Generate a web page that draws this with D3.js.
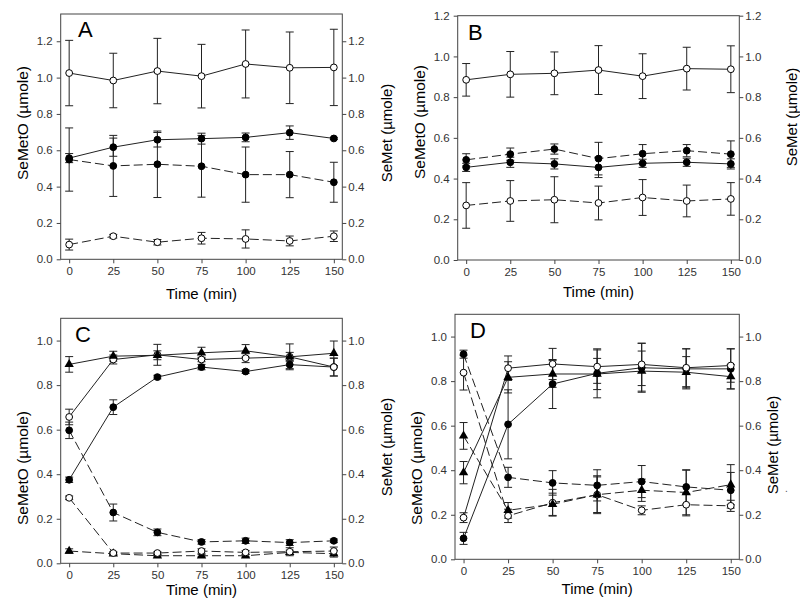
<!DOCTYPE html>
<html>
<head>
<meta charset="utf-8">
<script src="https://cdn.jsdelivr.net/npm/d3@7/dist/d3.min.js"></script>
<style>
    body { margin: 0; background: #fff; }
    svg { font-family: Arial, "Liberation Sans", sans-serif; }
</style>
</head>
<body>
<svg id="chart" width="800" height="612"></svg>
<script>

// ##################################################
// #  Data                                          #
// ##################################################

const times = [0, 25, 50, 75, 100, 125, 150];
const yTicksA = [0, 0.2, 0.4, 0.6, 0.8, 1.0, 1.2];
const yTicksC = [0, 0.2, 0.4, 0.6, 0.8, 1.0];

// panel A
const aOpenSolid = [1.025, 0.984, 1.036, 1.008, 1.075, 1.054, 1.056];
const aOpenSolidErr = [0.18, 0.15, 0.18, 0.175, 0.187, 0.197, 0.21];
const aFilledSolid = [0.557, 0.617, 0.658, 0.664, 0.671, 0.697, 0.665];
const aFilledSolidErr = [0.025, 0.05, 0.04, 0.03, 0.024, 0.037, 0.006];
const aFilledDash = [0.549, 0.514, 0.523, 0.512, 0.466, 0.466, 0.424];
const aFilledDashErr = [0.174, 0.168, 0.183, 0.17, 0.152, 0.127, 0.11];
const aOpenDash = [0.081, 0.127, 0.094, 0.116, 0.112, 0.101, 0.127];
const aOpenDashErr = [0.03, 0.01, 0.015, 0.032, 0.05, 0.027, 0.029];

// panel B
const bOpenSolid = [0.885, 0.912, 0.917, 0.933, 0.903, 0.94, 0.937];
const bOpenSolidErr = [0.08, 0.112, 0.105, 0.12, 0.11, 0.105, 0.115];
const bFilledDash = [0.492, 0.52, 0.545, 0.498, 0.522, 0.537, 0.52];
const bFilledDashErr = [0.03, 0.03, 0.025, 0.08, 0.045, 0.03, 0.065];
const bFilledSolid = [0.455, 0.48, 0.472, 0.455, 0.475, 0.48, 0.472];
const bFilledSolidErr = [0.02, 0.025, 0.025, 0.05, 0.02, 0.02, 0.025];
const bOpenDash = [0.268, 0.29, 0.296, 0.28, 0.307, 0.29, 0.3];
const bOpenDashErr = [0.112, 0.1, 0.113, 0.083, 0.088, 0.078, 0.08];

// panel C
const cTriSolid = [0.893, 0.93, 0.934, 0.945, 0.954, 0.927, 0.943];
const cTriSolidErr = [0.035, 0.022, 0.02, 0.025, 0.028, 0.02, 0.055];
const cOpenSolid = [0.657, 0.915, 0.936, 0.915, 0.921, 0.927, 0.881];
const cOpenSolidErr = [0.035, 0.02, 0.047, 0.01, 0.02, 0.058, 0.04];
const cFilledSolid = [0.375, 0.701, 0.836, 0.881, 0.861, 0.892, 0.881];
const cFilledSolidErr = [0.012, 0.033, 0.008, 0.012, 0.008, 0.018, 0.04];
const cFilledDash = [0.597, 0.228, 0.139, 0.096, 0.101, 0.093, 0.101];
const cFilledDashErr = [0.037, 0.038, 0.015, 0.01, 0.012, 0.013, 0.008];
const cOpenDash = [0.294, 0.046, 0.046, 0.055, 0.049, 0.052, 0.055];
const cOpenDashErr = [0.008, 0.006, 0.006, 0.01, 0.008, 0.018, 0.018];
const cTriDash = [0.055, 0.043, 0.034, 0.034, 0.034, 0.049, 0.043];
const cTriDashErr = [0.01, 0.005, 0.005, 0.005, 0.005, 0.01, 0.015];

// panel D
const dFilledDash = [0.921, 0.368, 0.343, 0.332, 0.349, 0.325, 0.31];
const dFilledDashErr = [0.018, 0.045, 0.055, 0.07, 0.072, 0.077, 0.08];
const dTriDash = [0.554, 0.22, 0.247, 0.29, 0.31, 0.30, 0.335];
const dTriDashErr = [0.06, 0.035, 0.05, 0.08, 0.05, 0.1, 0.09];
const dOpenDash = [0.838, 0.195, 0.254, 0.29, 0.22, 0.245, 0.24];
const dOpenDashErr = [0.078, 0.03, 0.06, 0.085, 0.02, 0.05, 0.025];
const dTriSolid = [0.389, 0.817, 0.832, 0.832, 0.845, 0.84, 0.82];
const dTriSolidErr = [0.05, 0.07, 0.06, 0.07, 0.09, 0.07, 0.055];
const dOpenSolid = [0.187, 0.858, 0.877, 0.865, 0.875, 0.86, 0.87];
const dOpenSolidErr = [0.022, 0.055, 0.07, 0.075, 0.095, 0.085, 0.075];
const dFilledSolid = [0.094, 0.606, 0.787, 0.835, 0.86, 0.855, 0.855];
const dFilledSolidErr = [0.027, 0.155, 0.11, 0.11, 0.11, 0.09, 0.09];

// ##################################################
// #  Layout                                        #
// ##################################################

const panels = [
    {
        letter: 'A', left: 60.7, right: 342.3, top: 14, bottom: 259.3, yMax: 1.35, yTicks: yTicksA,
        letterPos: [78, 37], yTitleY: 123, rTitleX: 392, rTitleY: 133, xTitleY: 299,
        series: [
            {values: aOpenDash, err: aOpenDashErr, marker: 'open', dash: true},
            {values: aFilledDash, err: aFilledDashErr, marker: 'filled', dash: true},
            {values: aFilledSolid, err: aFilledSolidErr, marker: 'filled', dash: false},
            {values: aOpenSolid, err: aOpenSolidErr, marker: 'open', dash: false}
        ]
    },
    {
        letter: 'B', left: 457.7, right: 739.3, top: 15.7, bottom: 260, yMax: 1.2, yTicks: yTicksA,
        letterPos: [468, 40], yTitleY: 122, rTitleX: 797, rTitleY: 117, xTitleY: 297,
        series: [
            {values: bOpenDash, err: bOpenDashErr, marker: 'open', dash: true},
            {values: bFilledDash, err: bFilledDashErr, marker: 'filled', dash: true},
            {values: bFilledSolid, err: bFilledSolidErr, marker: 'filled', dash: false},
            {values: bOpenSolid, err: bOpenSolidErr, marker: 'open', dash: false}
        ]
    },
    {
        letter: 'C', left: 60.7, right: 342.3, top: 318.3, bottom: 563.3, yMax: 1.1, yTicks: yTicksC,
        letterPos: [75, 342], yTitleY: 468, rTitleX: 392, rTitleY: 447, xTitleY: 595,
        series: [
            {values: cTriDash, err: cTriDashErr, marker: 'tri', dash: true},
            {values: cOpenDash, err: cOpenDashErr, marker: 'open', dash: true},
            {values: cFilledDash, err: cFilledDashErr, marker: 'filled', dash: true},
            {values: cFilledSolid, err: cFilledSolidErr, marker: 'filled', dash: false},
            {values: cOpenSolid, err: cOpenSolidErr, marker: 'open', dash: false},
            {values: cTriSolid, err: cTriSolidErr, marker: 'tri', dash: false}
        ]
    },
    {
        letter: 'D', left: 455, right: 739.3, top: 314.3, bottom: 559.3, yMax: 1.1, yTicks: yTicksC,
        letterPos: [470, 338], yTitleY: 468, rTitleX: 778, rTitleY: 445, xTitleY: 594,
        series: [
            {values: dOpenDash, err: dOpenDashErr, marker: 'open', dash: true},
            {values: dTriDash, err: dTriDashErr, marker: 'tri', dash: true},
            {values: dFilledDash, err: dFilledDashErr, marker: 'filled', dash: true},
            {values: dFilledSolid, err: dFilledSolidErr, marker: 'filled', dash: false},
            {values: dTriSolid, err: dTriSolidErr, marker: 'tri', dash: false},
            {values: dOpenSolid, err: dOpenSolidErr, marker: 'open', dash: false}
        ]
    }
];

// ##################################################
// #  Panel                                         #
// ##################################################

const svg = d3.select('#chart');

panels.forEach(p => drawPanel(svg, p));

// stray mark beside panel D in the original
svg.append('text')
    .attr('x', 785).attr('y', 492)
    .attr('font-size', 10).attr('fill', '#555')
    .text('.');

function drawPanel(root, p) {
    const g = root.append('g').attr('class', 'panel');

    const x = d3.scaleLinear()
        .domain([-4.8, 154.8])
        .range([p.left, p.right]);
    const y = d3.scaleLinear()
        .domain([0, p.yMax])
        .range([p.bottom, p.top]);

    const fmt = d3.format('.1f');

    // axes
    const left = g.append('g')
        .attr('transform', `translate(${p.left},0)`)
        .call(d3.axisLeft(y).tickValues(p.yTicks).tickFormat(fmt).tickSize(4).tickPadding(4));
    const right = g.append('g')
        .attr('transform', `translate(${p.right},0)`)
        .call(d3.axisRight(y).tickValues(p.yTicks).tickFormat(fmt).tickSize(4).tickPadding(2));
    const bottom = g.append('g')
        .attr('transform', `translate(0,${p.bottom})`)
        .call(d3.axisBottom(x).tickValues(times).tickSize(4).tickPadding(4));

    [left, right, bottom].forEach(a => {
        a.select('.domain').remove();
        a.selectAll('line').attr('stroke', '#444');
        a.selectAll('text').attr('font-size', 11.5).attr('fill', '#333')
            .attr('font-family', 'Arial, "Liberation Sans", sans-serif');
    });

    g.append('rect')
        .attr('x', p.left).attr('y', p.top)
        .attr('width', p.right - p.left)
        .attr('height', p.bottom - p.top)
        .attr('fill', 'none')
        .attr('stroke', '#444')
        .attr('stroke-width', 1);

    // titles
    g.append('text')
        .attr('transform', `translate(${p.left - 33},${p.yTitleY}) rotate(-90)`)
        .attr('text-anchor', 'middle')
        .attr('font-size', 15.5)
        .text('SeMetO (µmole)');
    g.append('text')
        .attr('transform', `translate(${p.rTitleX},${p.rTitleY}) rotate(-90)`)
        .attr('text-anchor', 'middle')
        .attr('font-size', 15)
        .text('SeMet (µmole)');
    g.append('text')
        .attr('x', (p.left + p.right) / 2)
        .attr('y', p.xTitleY)
        .attr('text-anchor', 'middle')
        .attr('font-size', 15)
        .text('Time (min)');
    g.append('text')
        .attr('x', p.letterPos[0])
        .attr('y', p.letterPos[1])
        .attr('font-size', 22)
        .text(p.letter);

    const line = d3.line()
        .x((d, i) => x(times[i]))
        .y(d => y(d));

    // lines
    g.selectAll('.series-line')
        .data(p.series)
        .enter()
        .append('path')
        .attr('class', 'series-line')
        .attr('d', s => line(s.values))
        .attr('fill', 'none')
        .attr('stroke', '#222')
        .attr('stroke-width', 1)
        .attr('stroke-dasharray', s => s.dash ? '9,4' : null);

    // error bars
    p.series.forEach(s => {
        const eg = g.append('g').attr('class', 'err');
        const pts = s.values.map((v, i) => ({t: times[i], v, e: s.err[i]}));
        eg.selectAll('.stem').data(pts).enter().append('line')
            .attr('x1', d => x(d.t)).attr('x2', d => x(d.t))
            .attr('y1', d => y(d.v - d.e)).attr('y2', d => y(d.v + d.e))
            .attr('stroke', '#222');
        eg.selectAll('.cap-top').data(pts).enter().append('line')
            .attr('x1', d => x(d.t) - 4).attr('x2', d => x(d.t) + 4)
            .attr('y1', d => y(d.v + d.e)).attr('y2', d => y(d.v + d.e))
            .attr('stroke', '#222');
        eg.selectAll('.cap-bot').data(pts).enter().append('line')
            .attr('x1', d => x(d.t) - 4).attr('x2', d => x(d.t) + 4)
            .attr('y1', d => y(d.v - d.e)).attr('y2', d => y(d.v - d.e))
            .attr('stroke', '#222');
    });

    // markers
    const tri = d3.symbol().type(d3.symbolTriangle).size(38);
    p.series.forEach(s => {
        const pts = s.values.map((v, i) => ({t: times[i], v}));
        const mg = g.append('g').attr('class', 'markers');
        if (s.marker === 'tri') {
            mg.selectAll('path').data(pts).enter().append('path')
                .attr('d', tri)
                .attr('transform', d => `translate(${x(d.t)},${y(d.v)})`)
                .attr('fill', '#000');
        } else {
            mg.selectAll('circle').data(pts).enter().append('circle')
                .attr('cx', d => x(d.t))
                .attr('cy', d => y(d.v))
                .attr('r', 3.4)
                .attr('fill', s.marker === 'open' ? '#fff' : '#000')
                .attr('stroke', '#000')
                .attr('stroke-width', 1);
        }
    });
}

</script>
</body>
</html>
